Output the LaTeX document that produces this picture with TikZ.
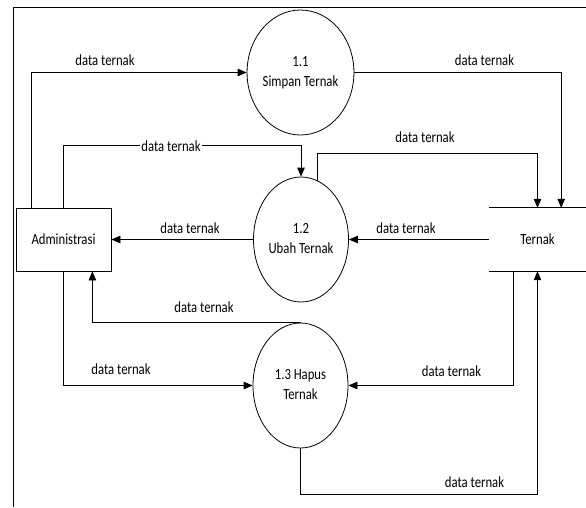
\documentclass[tikz,border=0pt]{standalone}
\usepackage{fontspec}
\setmainfont{Carlito}
\usepackage{graphicx}
\usetikzlibrary{arrows.meta,calc,shapes.geometric}
\newcommand{\sq}[1]{\scalebox{0.82}[1]{#1}}
\tikzset{
  arr/.style={draw, line width=0.8pt, -{Triangle[length=9pt,width=7.5pt]}},
  proc/.style={draw, ellipse, line width=0.8pt, minimum width=95pt, minimum height=125pt, inner sep=0pt},
  ent/.style={draw, rectangle, line width=0.8pt, minimum width=95pt, minimum height=63pt, inner sep=0pt},
  storebox/.style={rectangle, minimum width=97pt, minimum height=63pt, inner sep=0pt},
  lbl/.style={anchor=base, inner sep=0pt},
  lblw/.style={fill=white, inner sep=1pt},
}
\begin{document}
\begin{tikzpicture}[x=1pt,y=-1pt, font=\fontsize{15.5}{19.5}\selectfont]
\useasboundingbox (0,0) rectangle (586,507);
% frame
\draw[line width=0.8pt] (13,507) -- (13,7) -- (586,7);
% nodes
\node[ent] (adm) at (63.5,239.5) {\sq{Administrasi}};
\node[proc] (p11) at (300.5,72.5) {\sq{\begin{tabular}{@{}c@{}}1.1\\Simpan Ternak\end{tabular}}};
\node[proc] (p12) at (301,239.5) {\sq{\begin{tabular}{@{}c@{}}1.2\\Ubah Ternak\end{tabular}}};
\node[proc] (p13) at (300.5,385.5) {\sq{\begin{tabular}{@{}c@{}}1.3 Hapus\\Ternak\end{tabular}}};
\node[storebox] (store) at (537.5,239.5) {\sq{Ternak}};
\draw[line width=1pt] (store.north west) -- (store.north east);
\draw[line width=1pt] (store.south west) -- (store.south east);
% connectors
\draw[arr] ($(adm.north west)+(16,0)$) |- (p11.west);
\coordinate (c2) at ($(p12.north)+(0,-31)$);
\draw[arr] (adm.north) |- (c2) -- (p12.north);
\draw[arr] (p12.west) -- (adm.east);
\draw[arr] (p11.east) -| ($(store.north east)+(-25,0)$);
\coordinate (c5) at ($(store.north)+(0,-54)$);
\draw[arr] (p12.74) |- (c5) -- (store.north);
\draw[arr] (store.west) -- (p12.east);
\draw[arr] (p13.north) -| ($(adm.south east)+(-19,0)$);
\coordinate (c8) at ($(store.south)+(0,223)$);
\draw[arr] (p13.south) |- (c8) -- (store.south);
\draw[arr] ($(store.south west)+(25,0)$) |- (p13.east);
\draw[arr] (adm.south) |- (p13.west);
% labels
\node[lbl] (l1) at (105,65) {\sq{data ternak}};
\node[lblw] (l2) at (171,146) {\sq{data ternak}};
\node[lbl] (l3) at (190,233) {\sq{data ternak}};
\node[lbl] (l4) at (484.5,65) {\sq{data ternak}};
\node[lbl] (l5) at (425,142) {\sq{data ternak}};
\node[lbl] (l6) at (406,233) {\sq{data ternak}};
\node[lbl] (l7) at (204,312) {\sq{data ternak}};
\node[lbl] (l8) at (474.5,487) {\sq{data ternak}};
\node[lbl] (l9) at (451.5,376) {\sq{data ternak}};
\node[lbl] (l10) at (121,374) {\sq{data ternak}};
\end{tikzpicture}
\end{document}
